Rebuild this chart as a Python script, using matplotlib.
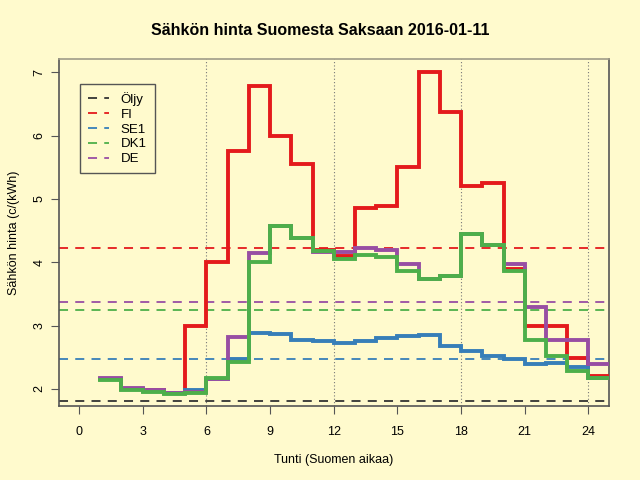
import numpy as np
import matplotlib.pyplot as plt

plt.rcParams['font.family'] = ['Liberation Sans', 'DejaVu Sans']

# tunnit 1..24, hinta pidetään seuraavaan tuntiin asti
hours = np.arange(1, 26)
fi = [2.16, 2.00, 1.98, 1.93, 3.00, 4.00, 5.76, 6.79, 6.00, 5.55, 4.20, 4.10,
      4.85, 4.89, 5.50, 7.00, 6.38, 5.21, 5.25, 3.90, 3.00, 3.00, 2.49, 2.20]
se1 = [2.15, 2.00, 1.97, 1.93, 1.98, 2.15, 2.47, 2.89, 2.87, 2.78, 2.75, 2.73,
       2.76, 2.81, 2.83, 2.86, 2.68, 2.60, 2.52, 2.47, 2.40, 2.41, 2.34, 2.18]
dk1 = [2.14, 1.98, 1.96, 1.92, 1.93, 2.17, 2.42, 4.00, 4.58, 4.39, 4.18, 4.05,
       4.12, 4.09, 3.86, 3.73, 3.78, 4.45, 4.28, 3.86, 2.78, 2.52, 2.29, 2.17]
de = [2.18, 2.01, 1.98, 1.94, 1.95, 2.16, 2.82, 4.14, 4.57, 4.38, 4.16, 4.17,
      4.22, 4.19, 3.97, 3.74, 3.78, 4.45, 4.27, 3.98, 3.29, 2.78, 2.78, 2.39]

# keskiarvot (vaakaviivat)
means = {'Öljy': 1.81, 'FI': 4.22, 'SE1': 2.47, 'DK1': 3.24, 'DE': 3.37}
colors = {'Öljy': '#333333', 'FI': '#E41A1C', 'SE1': '#377EB8',
          'DK1': '#4DAF4A', 'DE': '#984EA3'}
bg = '#FFFACD'

fig = plt.figure(figsize=(6.4, 4.8), dpi=100, facecolor=bg)
ax = fig.add_axes([0.092, 0.154, 0.859, 0.723], facecolor=bg)

for h in [6, 12, 18, 24]:
    ax.axvline(h, color='#777777', lw=0.8, ls=(0, (1, 2)), zorder=1)

for name in means:
    ax.axhline(means[name], color=colors[name], lw=1.3, ls=(0, (5, 4)),
               label=name, zorder=2)

def step(vals, c):
    v = list(vals) + [vals[-1]]
    ax.plot(hours, v, drawstyle='steps-post', color=c, lw=2.8, zorder=3,
            solid_joinstyle='miter')

step(fi, colors['FI'])
step(se1, colors['SE1'])
step(de, colors['DE'])
step(dk1, colors['DK1'])

ax.set_xlim(-0.95, 24.95)
ax.set_ylim(1.73, 7.21)
ax.set_xticks(range(0, 25, 3))
ax.set_yticks(range(2, 8))
ax.tick_params(axis='y', labelrotation=90, direction='out', length=6,
               color='#555555', labelsize=9)
ax.tick_params(axis='x', direction='out', length=6, color='#555555',
               labelsize=9, pad=8)
for lab in ax.get_yticklabels():
    lab.set_va('center')
for s in ['left', 'bottom', 'right']:
    ax.spines[s].set_color('#555555')
ax.spines['top'].set_color('#a09c88')
for s in ax.spines.values():
    s.set_linewidth(1.2)

fig.text(0.5, 0.937, 'Sähkön hinta Suomesta Saksaan 2016-01-11', fontsize=11.5,
         fontweight='bold', ha='center', va='center')
ax.set_xlabel('Tunti (Suomen aikaa)', fontsize=9, labelpad=12)
ax.set_ylabel('Sähkön hinta (c/(kWh)', fontsize=9, labelpad=10)

leg = ax.legend(loc='upper left', bbox_to_anchor=(0.038, 0.928), fontsize=9.5,
                fancybox=False, framealpha=1, facecolor=bg,
                edgecolor='#555555', handlelength=1.6, handletextpad=0.9,
                borderpad=0.6, borderaxespad=0, labelspacing=0.2)
leg.get_frame().set_linewidth(1.0)

fig.savefig('out.png', dpi=100, facecolor=bg)
